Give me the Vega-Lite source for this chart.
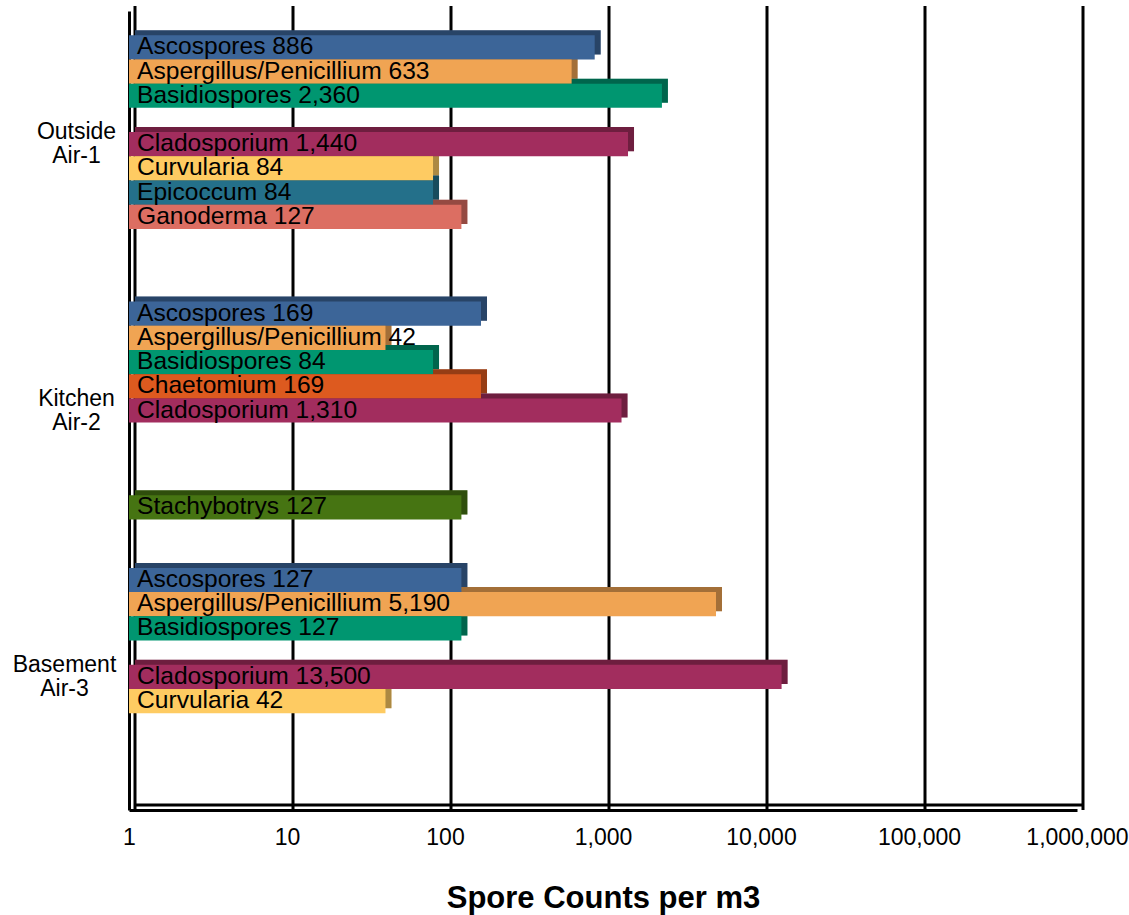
{
  "$schema": "https://vega.github.io/schema/vega-lite/v6.json",
  "width": 948,
  "height": 799,
  "autosize": {"type": "none"},
  "padding": {"left": 129, "top": 11, "right": 52, "bottom": 105},
  "background": "white",
  "config": {
    "view": {"stroke": null},
    "font": "Liberation Sans",
    "axisX": {
      "titleFontSize": 31, "titleFontWeight": "bold", "titleColor": "black", "titlePadding": 34,
      "values": [1, 10, 100, 1000, 10000, 100000, 1000000], "format": ",", "labelFlush": false,
      "labelFontSize": 23, "labelColor": "black", "labelPadding": 16, "ticks": false, "tickSize": 0,
      "grid": false, "domain": true, "domainColor": "black", "domainWidth": 3
    },
    "axisY": {
      "ticks": false, "tickSize": 0, "domain": true, "domainColor": "black", "domainWidth": 3,
      "labelAlign": "center", "labelBaseline": "middle", "labelFontSize": 23, "labelLineHeight": 24,
      "labelOffset": -12, "labelColor": "black", "labelLimit": 300, "grid": false
    }
  },
  "datasets": {
    "counts": [
      {"site": "Outside Air-1", "taxon": "Ascospores", "count": 886},
      {"site": "Outside Air-1", "taxon": "Aspergillus/Penicillium", "count": 633},
      {"site": "Outside Air-1", "taxon": "Basidiospores", "count": 2360},
      {"site": "Outside Air-1", "taxon": "Cladosporium", "count": 1440},
      {"site": "Outside Air-1", "taxon": "Curvularia", "count": 84},
      {"site": "Outside Air-1", "taxon": "Epicoccum", "count": 84},
      {"site": "Outside Air-1", "taxon": "Ganoderma", "count": 127},
      {"site": "Kitchen Air-2", "taxon": "Ascospores", "count": 169},
      {"site": "Kitchen Air-2", "taxon": "Aspergillus/Penicillium", "count": 42},
      {"site": "Kitchen Air-2", "taxon": "Basidiospores", "count": 84},
      {"site": "Kitchen Air-2", "taxon": "Chaetomium", "count": 169},
      {"site": "Kitchen Air-2", "taxon": "Cladosporium", "count": 1310},
      {"site": "Kitchen Air-2", "taxon": "Stachybotrys", "count": 127},
      {"site": "Basement Air-3", "taxon": "Ascospores", "count": 127},
      {"site": "Basement Air-3", "taxon": "Aspergillus/Penicillium", "count": 5190},
      {"site": "Basement Air-3", "taxon": "Basidiospores", "count": 127},
      {"site": "Basement Air-3", "taxon": "Cladosporium", "count": 13500},
      {"site": "Basement Air-3", "taxon": "Curvularia", "count": 42}
    ],
    "decades": [{"v": 1}, {"v": 10}, {"v": 100}, {"v": 1000}, {"v": 10000}, {"v": 100000}, {"v": 1000000}],
    "floor": [{"a": 1, "b": 1000000, "key": "Basement Air-3|end"}]
  },
  "layer": [
    {
      "data": {"name": "decades"},
      "mark": {"type": "rule", "color": "black", "strokeWidth": 3, "xOffset": 6, "yOffset": -5, "y2Offset": -5},
      "encoding": {
        "x": {"field": "v", "type": "quantitative", "scale": {"type": "log", "domain": [1, 1000000], "nice": false}, "axis": {"title": "Spore Counts per m3"}}
      }
    },
    {
      "data": {"name": "floor"},
      "mark": {"type": "rule", "color": "black", "strokeWidth": 3, "xOffset": 6, "x2Offset": 6, "yOffset": -5},
      "encoding": {
        "x": {"field": "a", "type": "quantitative", "axis": {"title": "Spore Counts per m3"}},
        "x2": {"field": "b"},
        "y": {
          "field": "key", "type": "nominal", "bandPosition": 1,
          "axis": {
            "title": null,
            "values": ["Outside Air-1|Cladosporium", "Kitchen Air-2|Cladosporium", "Basement Air-3|Cladosporium"],
            "labelExpr": "split(split(datum.label, '|')[0], ' ')",
            "labelPadding": {"condition": {"test": "indexof(datum.value, 'Basement') == 0", "value": 65}, "value": 53}
          }
        }
      }
    },
    {
      "data": {"name": "counts"},
      "transform": [
        {"calculate": "datum.taxon + ' ' + format(datum.count, ',')", "as": "label"},
        {"calculate": "datum.site + '|' + datum.taxon", "as": "key"}
      ],
      "encoding": {
        "y": {
          "field": "key", "type": "nominal",
          "scale": {
            "domain": [
              "Outside Air-1|start", "Outside Air-1|Ascospores", "Outside Air-1|Aspergillus/Penicillium", "Outside Air-1|Basidiospores", "Outside Air-1|Chaetomium", "Outside Air-1|Cladosporium", "Outside Air-1|Curvularia", "Outside Air-1|Epicoccum", "Outside Air-1|Ganoderma", "Outside Air-1|Stachybotrys", "Outside Air-1|end",
              "Kitchen Air-2|start", "Kitchen Air-2|Ascospores", "Kitchen Air-2|Aspergillus/Penicillium", "Kitchen Air-2|Basidiospores", "Kitchen Air-2|Chaetomium", "Kitchen Air-2|Cladosporium", "Kitchen Air-2|Curvularia", "Kitchen Air-2|Epicoccum", "Kitchen Air-2|Ganoderma", "Kitchen Air-2|Stachybotrys", "Kitchen Air-2|end",
              "Basement Air-3|start", "Basement Air-3|Ascospores", "Basement Air-3|Aspergillus/Penicillium", "Basement Air-3|Basidiospores", "Basement Air-3|Chaetomium", "Basement Air-3|Cladosporium", "Basement Air-3|Curvularia", "Basement Air-3|Epicoccum", "Basement Air-3|Ganoderma", "Basement Air-3|Stachybotrys", "Basement Air-3|end"
            ],
            "paddingInner": 0, "paddingOuter": 0
          },
          "axis": {
            "title": null,
            "values": ["Outside Air-1|Cladosporium", "Kitchen Air-2|Cladosporium", "Basement Air-3|Cladosporium"],
            "labelExpr": "split(split(datum.label, '|')[0], ' ')",
            "labelPadding": {"condition": {"test": "indexof(datum.value, 'Basement') == 0", "value": 65}, "value": 53}
          }
        }
      },
      "layer": [
        {
          "mark": {"type": "bar", "xOffset": 6, "x2Offset": 6, "yOffset": -5},
          "encoding": {
            "x": {"field": "count", "type": "quantitative", "axis": {"title": "Spore Counts per m3"}},
            "x2": {"datum": 1},
            "color": {
              "field": "taxon", "type": "nominal", "legend": null,
              "scale": {
                "domain": ["Ascospores", "Aspergillus/Penicillium", "Basidiospores", "Chaetomium", "Cladosporium", "Curvularia", "Epicoccum", "Ganoderma", "Stachybotrys"],
                "range": ["#3c6598", "#f0a453", "#009670", "#dd5a1f", "#a22d5e", "#fecb62", "#24708a", "#dc6e62", "#467412"]
              }
            }
          }
        },
        {
          "mark": {"type": "bar", "xOffset": 6, "x2Offset": 6, "yOffset": -5, "color": "black", "opacity": 0.32},
          "encoding": {
            "x": {"field": "count", "type": "quantitative", "axis": {"title": "Spore Counts per m3"}},
            "x2": {"datum": 1}
          }
        },
        {
          "mark": {"type": "bar"},
          "encoding": {
            "x": {"field": "count", "type": "quantitative", "axis": {"title": "Spore Counts per m3"}},
            "x2": {"datum": 1},
            "color": {"field": "taxon", "type": "nominal", "legend": null}
          }
        },
        {
          "mark": {"type": "text", "align": "left", "baseline": "middle", "dx": 8, "fontSize": 24.6, "color": "black"},
          "encoding": {
            "x": {"datum": 1, "type": "quantitative", "axis": {"title": "Spore Counts per m3"}},
            "text": {"field": "label"}
          }
        }
      ]
    }
  ]
}
